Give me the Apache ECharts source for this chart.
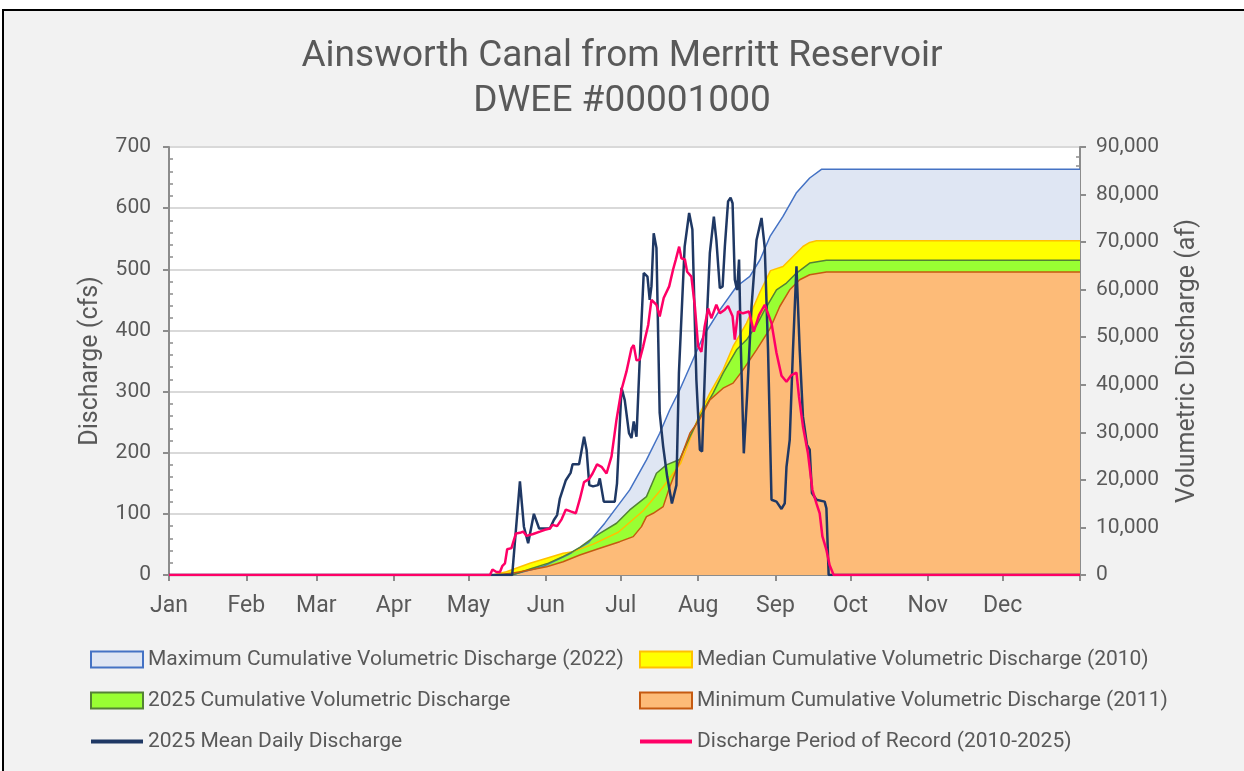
<!DOCTYPE html>
<html>
<head>
<meta charset="utf-8">
<script src="https://cdn.jsdelivr.net/npm/echarts@6/dist/echarts.min.js"></script>
<style>
html, body { margin: 0; padding: 0; background: #fff; overflow: hidden; }
.frame { position: absolute; left: 2px; top: 9px; width: 1280px; height: 800px; border: 2px solid #000; background: #f2f2f2; }
#chart { position: absolute; left: 0; top: 0; width: 1244px; height: 771px; }
</style>
</head>
<body>
<div class="frame"></div>
<div id="chart"></div>
<script>
// day of year (0 = Jan 1) for each month label
var months = ["Jan", "Feb", "Mar", "Apr", "May", "Jun", "Jul", "Aug", "Sep", "Oct", "Nov", "Dec"];
var monthStartDays = [0, 31, 59, 90, 120, 151, 181, 212, 243, 273, 304, 334];
var tickDays = [0, 31, 59, 90, 120, 151, 181, 212, 243, 273, 304, 334, 365];

// cumulative volumes, [day, af]
var maxCumulative = [
  [0, 0], [137, 0], [150, 1800], [160, 4300], [168, 6800], [174.6, 10900], [184.6, 17900],
  [191.3, 24200], [196.6, 29800], [200.6, 34700], [204.6, 38900], [208.7, 43800], [214, 50150],
  [220.7, 55760], [227.4, 60670], [232.7, 62780], [236.8, 66290], [240.8, 71190], [246, 75400],
  [251.3, 80320], [256.7, 83480], [261.4, 85300], [365, 85300]
];
var medianCumulative = [
  [0, 0], [129.5, 0], [135.2, 700], [144.6, 2460], [151.3, 3510], [157.9, 4560], [161.9, 4910],
  [170, 6500], [180, 9000], [190, 13500], [198, 18500], [205, 23500], [212.7, 34000],
  [216.7, 38230], [222, 43140], [226, 48050], [231.4, 52960], [236.8, 59500], [241, 64000],
  [246, 64880], [251.4, 67700], [254, 69080], [256.7, 69930], [259.4, 70300], [365, 70300]
];
var cumulative2025 = [
  [0, 0], [137.5, 0], [145, 1300], [152, 2500], [158, 3900], [161, 4700], [164.6, 5800],
  [168.6, 7360], [172.6, 8770], [179.3, 10880], [184.6, 13680], [191.3, 16480], [195.3, 21400],
  [199.3, 23150], [204.6, 24300], [208.7, 29100], [212.7, 33310], [218, 38230], [222, 42440],
  [227.4, 47350], [231.4, 49450], [235.4, 52500], [238.5, 55600], [243.4, 59970], [247.4, 61390],
  [251.4, 63490], [256.7, 65590], [263.4, 66200], [365, 66200]
];
var minCumulative = [
  [0, 0], [131, 0], [137.9, 400], [144.6, 1050], [151.3, 1750], [157.9, 2800], [164.6, 4210],
  [172.6, 5610], [180.6, 7010], [186, 8070], [189.3, 10170], [191.3, 12270], [194, 12980],
  [198, 14380], [200.6, 18500], [204.6, 24000], [208.7, 29820], [212.7, 32800], [216.7, 36830],
  [222, 39280], [226, 40340], [230, 43140], [235.4, 47350], [240.8, 51800], [244.7, 56460],
  [248.7, 59970], [252.7, 62080], [256.7, 63130], [263.4, 63700], [365, 63700]
];

// daily discharge, [day, cfs]
var meanDaily2025 = [
  [0, 0], [137.5, 0], [140.6, 153], [142.2, 79], [143.9, 52], [144.6, 51], [146.2, 100], [148.3, 76],
  [152.6, 76], [154.2, 90], [155.5, 98], [156.6, 125], [159, 155], [160.9, 167], [161.7, 181],
  [164.3, 181], [166.3, 226], [167.3, 205], [168.4, 147], [169.9, 145], [171.9, 147], [172.6, 158],
  [174.2, 120], [178.6, 120], [179.5, 150], [181.3, 306], [182.6, 286], [184.3, 232], [185.3, 224],
  [186.2, 251], [187.3, 226], [188.6, 352], [190.2, 494], [191.7, 488], [192.6, 450], [193.3, 472],
  [194.2, 559], [195.3, 535], [196.6, 265], [198, 210], [199.6, 161], [201.5, 117], [203.3, 147],
  [204.3, 330], [206.6, 537], [208.4, 592], [209.7, 565], [211.3, 319], [212.7, 205], [213.6, 202],
  [215.3, 401], [216.7, 527], [218.3, 586], [219.3, 548], [220.7, 469], [221.8, 472], [222.7, 537],
  [224, 611], [225, 617], [225.8, 608], [226.7, 483], [227.6, 466], [228.4, 516], [229.1, 374],
  [230.3, 199], [231.6, 292], [233.4, 439], [235.4, 548], [237.4, 584], [238.7, 535], [240, 370],
  [241.4, 123], [243.4, 120], [245.4, 108], [246.7, 117], [247.4, 177], [248.7, 221], [250, 368],
  [251.4, 505], [252.7, 368], [254, 259], [255.6, 213], [256.7, 205], [257.6, 134], [259.4, 123],
  [262.7, 120], [263.4, 109], [264.3, 0], [365, 0]
];
var periodOfRecord = [
  [0, 0], [128.6, 0], [129.6, 9], [131.2, 5], [132.6, 5], [133.6, 15], [134.6, 19], [135.5, 42],
  [137.2, 44], [139, 68], [140.6, 69], [141.9, 71], [143.2, 64], [145.9, 67], [148.6, 71],
  [150.6, 74], [152.6, 76], [153.7, 82], [155.5, 80], [157.3, 91], [159, 107], [160.9, 104],
  [163, 101], [164.6, 124], [166.3, 152], [168.3, 157], [169.7, 166], [171.5, 181], [173.3, 177],
  [175.3, 166], [177.3, 194], [179.3, 254], [181.3, 303], [183.3, 333], [185.3, 371], [186.2, 376],
  [187.3, 351], [188.6, 352], [190, 374], [192, 409], [193.3, 450], [195.3, 442], [196.6, 423],
  [198.2, 453], [200.4, 472], [202, 500], [203, 515], [204.4, 537], [205.3, 518], [206.7, 516],
  [207.6, 496], [209.3, 488], [210.7, 439], [212, 374], [213.3, 365], [214.6, 406], [216, 436],
  [217.3, 420], [219.3, 442], [220.7, 428], [222.7, 434], [224, 440], [225.8, 423], [226.7, 385],
  [228, 431], [230, 428], [232.4, 431], [234.3, 398], [236.4, 425], [238.7, 442], [239.4, 442],
  [241.4, 412], [243.4, 363], [245.4, 326], [247.4, 316], [249.4, 327], [251.4, 331], [252.4, 292],
  [254, 243], [256, 199], [257.8, 139], [259.4, 117], [260.7, 101], [261.8, 63], [263.4, 41],
  [264.7, 16], [266.3, 0], [365, 0]
];

var grey = "#595959";
var axisGrey = "#8c8c8c";
var font = "Roboto";
var lineIcon = "path://M0,0H52V4H0Z";

var names = {
  max: "Maximum Cumulative Volumetric Discharge (2022)",
  median: "Median Cumulative Volumetric Discharge (2010)",
  cum: "2025 Cumulative Volumetric Discharge",
  min: "Minimum Cumulative Volumetric Discharge (2011)",
  mean: "2025 Mean Daily Discharge",
  por: "Discharge Period of Record (2010-2025)"
};

function areaSeries(name, data, fill, line) {
  return {
    name: name,
    type: "line",
    yAxisIndex: 1,
    data: data,
    symbol: "none",
    lineStyle: { color: line, width: 1.5 },
    itemStyle: { color: fill, borderColor: line },
    areaStyle: { color: fill, opacity: 1 }
  };
}

var legendText = { fontSize: 21, color: grey, fontFamily: font };

var chart = echarts.init(document.getElementById("chart"));
var option = {
  animation: false,
  title: {
    text: "Ainsworth Canal from Merritt Reservoir\nDWEE #00001000",
    left: "center",
    top: 29,
    padding: [5, 5, 5, 21],
    textStyle: { fontSize: 37, lineHeight: 45, fontWeight: "normal", color: grey, fontFamily: font }
  },
  grid: { left: 169, right: 164, top: 147, bottom: 196, show: true, backgroundColor: "#fff", borderWidth: 0 },
  legend: [
    {
      orient: "vertical", left: 85, top: 644, itemWidth: 52, itemHeight: 16, itemGap: 20,
      textStyle: legendText,
      data: [
        { name: names.max, icon: "rect", itemStyle: { color: "#dfe6f3", borderColor: "#4472c4", borderWidth: 2 } },
        { name: names.cum, icon: "rect", itemStyle: { color: "#99ff33", borderColor: "#548235", borderWidth: 2 } },
        { name: names.mean, icon: lineIcon, itemStyle: { color: "#1f3864", borderWidth: 0 } }
      ]
    },
    {
      orient: "vertical", left: 634, top: 644, itemWidth: 52, itemHeight: 16, itemGap: 20,
      textStyle: legendText,
      data: [
        { name: names.median, icon: "rect", itemStyle: { color: "#ffff00", borderColor: "#ffc000", borderWidth: 2 } },
        { name: names.min, icon: "rect", itemStyle: { color: "#fdbb78", borderColor: "#c55a11", borderWidth: 2 } },
        { name: names.por, icon: lineIcon, itemStyle: { color: "#ff0066", borderWidth: 0 } }
      ]
    }
  ],
  xAxis: {
    type: "value",
    min: 0,
    max: 365,
    axisLine: { show: true, lineStyle: { color: axisGrey, width: 2 } },
    axisTick: { show: true, customValues: tickDays, length: 6, lineStyle: { color: axisGrey, width: 2 } },
    axisLabel: {
      customValues: monthStartDays,
      formatter: function(v) { return months[monthStartDays.indexOf(v)]; },
      color: grey, fontSize: 23, margin: 20, fontFamily: font
    },
    splitLine: { show: false }
  },
  yAxis: [
    {
      type: "value",
      min: 0,
      max: 700,
      interval: 100,
      name: "Discharge (cfs)",
      nameLocation: "middle",
      nameGap: 66,
      nameTextStyle: { fontSize: 25, color: grey, fontFamily: font },
      axisLine: { show: true, lineStyle: { color: axisGrey, width: 2 } },
      axisTick: { show: true, length: 6, lineStyle: { color: axisGrey, width: 2 } },
      minorTick: { show: true, splitNumber: 5, length: -4, lineStyle: { color: axisGrey, width: 1.5 } },
      axisLabel: { color: grey, fontSize: 21, margin: 18, fontFamily: font },
      splitLine: { show: true, lineStyle: { color: "#d9d9d9", width: 2 } }
    },
    {
      type: "value",
      min: 0,
      max: 90000,
      interval: 10000,
      position: "right",
      name: "Volumetric Discharge (af)",
      nameLocation: "middle",
      nameGap: 95,
      nameTextStyle: { fontSize: 25, color: grey, fontFamily: font },
      axisLine: { show: true, lineStyle: { color: axisGrey, width: 2 } },
      axisTick: { show: true, length: 6, lineStyle: { color: axisGrey, width: 2 } },
      minorTick: { show: true, splitNumber: 5, length: -4, lineStyle: { color: axisGrey, width: 1.5 } },
      axisLabel: {
        color: grey, fontSize: 21, margin: 16, fontFamily: font,
        formatter: function(v) { return v.toLocaleString("en-US"); }
      },
      splitLine: { show: false }
    }
  ],
  series: [
    areaSeries(names.max, maxCumulative, "#dfe6f3", "#4472c4"),
    areaSeries(names.median, medianCumulative, "#ffff00", "#ffc000"),
    areaSeries(names.cum, cumulative2025, "#99ff33", "#548235"),
    areaSeries(names.min, minCumulative, "#fdbb78", "#c55a11"),
    {
      name: names.mean,
      type: "line",
      data: meanDaily2025,
      symbol: "none",
      itemStyle: { color: "#1f3864" },
      lineStyle: { color: "#1f3864", width: 2.5 }
    },
    {
      name: names.por,
      type: "line",
      data: periodOfRecord,
      symbol: "none",
      itemStyle: { color: "#ff0066" },
      lineStyle: { color: "#ff0066", width: 2.5 }
    }
  ]
};
chart.setOption(option);
</script>
</body>
</html>
